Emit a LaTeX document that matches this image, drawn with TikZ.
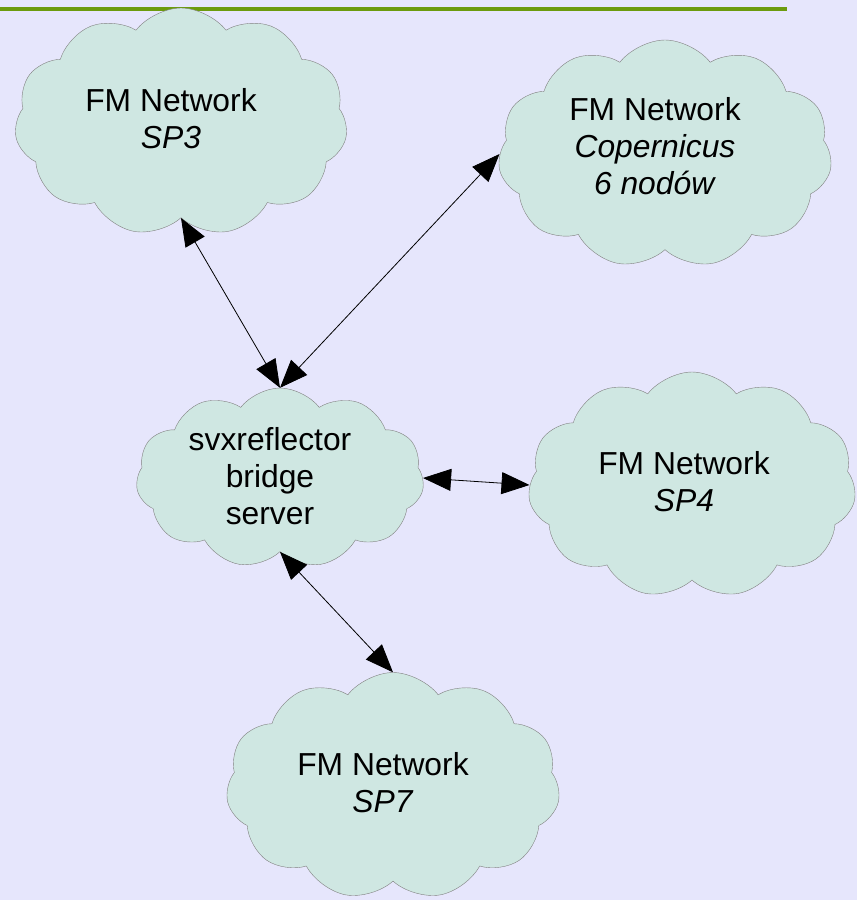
\documentclass[tikz,border=0pt]{standalone}
\usepackage{fontspec}
\setmainfont{Liberation Sans}
\usepackage{tikz}
\usetikzlibrary{shapes.symbols, arrows.meta}

\definecolor{bgcol}{RGB}{230,230,252}
\definecolor{cloudcol}{RGB}{207,231,226}
\definecolor{barcol}{RGB}{108,155,14}

\tikzset{
  net/.style={cloud, cloud puffs=11, cloud puff arc=105, draw=gray, fill=cloudcol, inner sep=0pt},
  nettext/.style={align=center, font=\fontsize{31.8}{37}\selectfont, xshift=-10pt, yshift=3pt},
  link/.style={>={Triangle[length=28pt, width=22pt]}, <->, black, line width=0.8pt}
}

\begin{document}
\begin{tikzpicture}[x=1pt, y=-1pt]
    \fill[bgcol] (0,0) rectangle (857,900);
    \useasboundingbox (0,0) rectangle (857,900);
    \draw[barcol, line width=4pt] (0,8.5) -- (787,8.5);

    \node[net, minimum width=333pt, minimum height=228pt,
      label={[nettext]center:FM Network\\\textit{SP3}}] (sp3) at (181,122) {};
    \node[net, minimum width=334pt, minimum height=228pt,
      label={[nettext, yshift=5pt]center:FM Network\\\textit{Copernicus}\\\textit{6 nodów}}] (cop) at (665,154) {};
    \node[net, minimum width=288pt, minimum height=180pt,
      label={[nettext, yshift=-1pt]center:svxreflector\\bridge\\server}] (br) at (280,478) {};
    \node[net, minimum width=328pt, minimum height=226pt,
      label={[nettext, xshift=2pt]center:FM Network\\\textit{SP4}}] (sp4) at (692,485) {};
    \node[net, minimum width=334pt, minimum height=227pt,
      label={[nettext]center:FM Network\\\textit{SP7}}] (sp7) at (393,786) {};

    \path[link]
      (sp3.south) edge (br.north)
      (cop.west)  edge (br.north)
      (br.east)   edge (sp4.west)
      (br.south)  edge (sp7.north);
  \end{tikzpicture}
\end{document}
